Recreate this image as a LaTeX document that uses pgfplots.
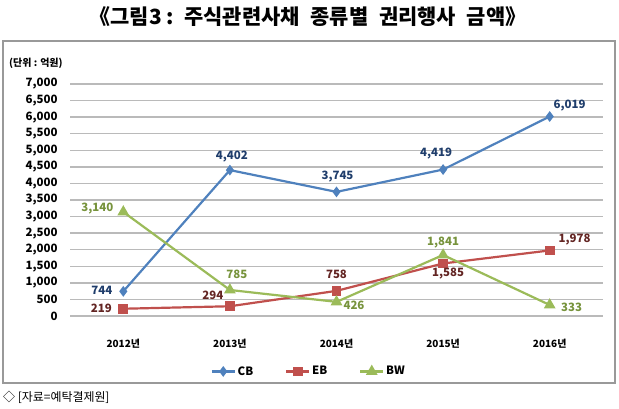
\documentclass[border=0pt]{standalone}
\usepackage{fontspec}
\setmainfont{Noto Sans CJK KR}
\usepackage{pgfplots}
\usepackage{pgfplotstable}
\pgfplotsset{compat=1.18}
\definecolor{cbc}{HTML}{4F81BD}
\definecolor{ebc}{HTML}{C0504D}
\definecolor{bwc}{HTML}{9BBB59}
\definecolor{cbl}{HTML}{1F3D6B}
\definecolor{ebl}{HTML}{632523}
\definecolor{bwl}{HTML}{77933C}

\pgfplotstableread{
x y dx dy
0 744 -21.5 1.3
1 4402 2 14
2 3745 1 15
3 4419 -7 16
4 6019 20 10.5
}\cbdata
\pgfplotstableread{
x y dx dy
0 219 -22 0.7
1 294 -17 10.6
2 758 0 17
3 1585 5 -10.5
4 1978 25 10.4
}\ebdata
\pgfplotstableread{
x y dx dy
0 3140 -26 3
1 785 7 16
2 426 17.5 -3
3 1841 0 12
4 333 22 -2
}\bwdata

\begin{document}
\begin{tikzpicture}
\useasboundingbox (0bp,0bp) rectangle (619bp,409bp);
\draw[black!40, line width=1.2bp] (3bp,26bp) rectangle (615bp,368bp);
\node[font=\bfseries\fontsize{21}{24}\selectfont, inner sep=0pt] at (308bp,392bp) {《그림3 :\hspace{4bp} 주식관련사채\hspace{6bp} 종류별\hspace{6bp} 권리행사\hspace{6bp} 금액》};
\node[anchor=west, font=\bfseries\fontsize{10}{12}\selectfont, inner sep=0pt] at (9bp,346bp) {(단위 : 억원)};
\node[anchor=west, font=\fontsize{12}{14}\selectfont, inner sep=0pt] at (3bp,12bp) {◇ [자료=예탁결제원]};
\begin{axis}[
  at={(70bp,93bp)}, anchor=south west,
  scale only axis, width=533bp, height=232bp,
  xmin=-0.5, xmax=4.5, ymin=0, ymax=7000,
  xtick={0,1,2,3,4},
  xticklabels={2012년,2013년,2014년,2015년,2016년},
  ytick={0,500,...,7000},
  ymajorgrids,
  grid style={black!27, line width=1.3bp},
  axis line style={draw=none},
  major tick length=0pt,
  /pgf/number format/assume math mode=true,
  /pgf/number format/1000 sep={,},
  yticklabel style={font=\bfseries\fontsize{11.5}{13}\selectfont, xshift=-9bp},
  xticklabel style={font=\bfseries\fontsize{10}{12}\selectfont, yshift=-20bp},
  legend style={at={(0.448,-0.239)}, anchor=center, draw=none, fill=none,
    legend columns=3, font=\bfseries\fontsize{11.5}{13}\selectfont,
    /tikz/every even column/.append style={column sep=30bp}},
  legend image code/.code={\draw[mark repeat=2,mark phase=2] plot coordinates {(0cm,0cm) (0.4cm,0cm) (0.8cm,0cm)};},
  clip=false,
  point meta=explicit,
  nodes near coords={\pgfmathprintnumber[fixed,precision=0]{\pgfplotspointmeta}},
  visualization depends on={\thisrow{dx}\as\mydx},
  visualization depends on={\thisrow{dy}\as\mydy},
]
\addplot[cbc, line width=2.2bp, mark=diamond*, mark size=3.6bp, mark options={solid},
  every node near coord/.append style={anchor=center, inner sep=0pt, text=cbl, font=\bfseries\fontsize{11.5}{13}\selectfont, xshift=\mydx bp, yshift=\mydy bp}]
  table[x=x, y=y, meta=y] {\cbdata};
\addlegendentry{CB}
\addplot[ebc, line width=2.2bp, mark=square*, mark size=3.8bp, mark options={solid},
  every node near coord/.append style={anchor=center, inner sep=0pt, text=ebl, font=\bfseries\fontsize{11.5}{13}\selectfont, xshift=\mydx bp, yshift=\mydy bp}]
  table[x=x, y=y, meta=y] {\ebdata};
\addlegendentry{EB}
\addplot[bwc, line width=2.2bp, mark=triangle*, mark size=4.6bp, mark options={solid},
  every node near coord/.append style={anchor=center, inner sep=0pt, text=bwl, font=\bfseries\fontsize{11.5}{13}\selectfont, xshift=\mydx bp, yshift=\mydy bp}]
  table[x=x, y=y, meta=y] {\bwdata};
\addlegendentry{BW}
\end{axis}
\end{tikzpicture}
\end{document}
